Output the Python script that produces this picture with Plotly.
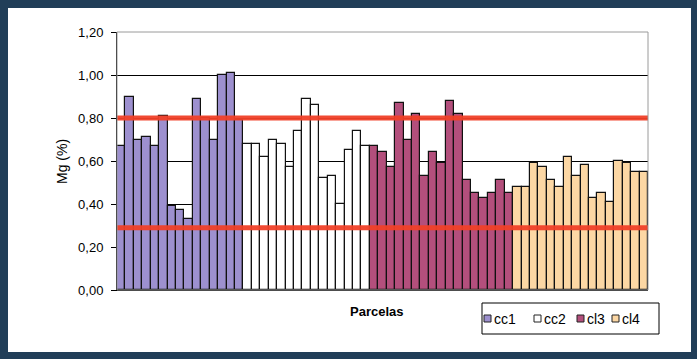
import plotly.graph_objects as go

groups = ["cc1", "cc2", "cl3", "cl4"]
cc1 = [0.67, 0.90, 0.70, 0.71, 0.67, 0.81, 0.39, 0.37, 0.33, 0.89, 0.80, 0.70, 1.00, 1.01, 0.79]
cc2 = [0.68, 0.68, 0.62, 0.70, 0.68, 0.57, 0.74, 0.89, 0.86, 0.52, 0.53, 0.40, 0.65, 0.74, 0.67]
cl3 = [0.67, 0.64, 0.57, 0.87, 0.70, 0.82, 0.53, 0.64, 0.59, 0.88, 0.82, 0.51, 0.45, 0.43, 0.45, 0.51, 0.45]
cl4 = [0.48, 0.48, 0.59, 0.57, 0.51, 0.48, 0.62, 0.53, 0.58, 0.43, 0.45, 0.41, 0.60, 0.59, 0.55, 0.55]
series = [cc1, cc2, cl3, cl4]
colors = ["#9d90cf", "#ffffff", "#b34f7c", "#fcd7a4"]
limits = [0.80, 0.29]
y_ticks = [0.0, 0.2, 0.4, 0.6, 0.8, 1.0, 1.2]

W, H = 697, 359
L, R, T, B = 117, 648, 32, 290
pw, ph = R - L, B - T
frame = "#213e58"

def px(x):
    return (x - L) / pw

def py(y):
    return (B - y) / ph

fig = go.Figure()
start = 0
for name, vals, col in zip(groups, series, colors):
    xs = list(range(start, start + len(vals)))
    start += len(vals)
    fig.add_trace(go.Bar(x=xs, y=vals, name=name, width=1.0, showlegend=False,
                         marker=dict(color=col, line=dict(color="#111111", width=1.2))))

for lv in limits:
    fig.add_shape(type="line", xref="paper", yref="y", x0=0, x1=1, y0=lv, y1=lv,
                  line=dict(color="rgba(240,64,40,0.95)", width=5), layer="above")

# white panel on dark frame
fig.add_shape(type="rect", xref="paper", yref="paper", x0=px(8), x1=px(691),
              y0=py(352), y1=py(8), fillcolor="white",
              line=dict(width=0), layer="below")
# plot border
fig.add_shape(type="rect", xref="paper", yref="paper", x0=0, x1=1, y0=0, y1=1,
              line=dict(color="#9a9a9a", width=1), layer="above")

font = "Liberation Sans, Arial"
fig.add_annotation(text="<b>Parcelas</b>", xref="paper", yref="paper", x=px(377),
                   y=py(311), showarrow=False, yanchor="middle",
                   font=dict(family=font, size=13, color="black"))
fig.add_annotation(text="Mg (%)", xref="paper", yref="paper", x=px(62),
                   y=py(162), showarrow=False, textangle=-90, xanchor="center",
                   yanchor="middle",
                   font=dict(family=font, size=14, color="black"))

# legend box (manual, compact like the original)
fig.add_shape(type="rect", xref="paper", yref="paper", x0=px(482), x1=px(659),
              y0=py(334), y1=py(303), fillcolor="white",
              line=dict(color="black", width=1), layer="above")
sq_x = [484, 534, 577, 612]
for name, col, sx in zip(groups, colors, sq_x):
    fig.add_shape(type="rect", xref="paper", yref="paper", x0=px(sx), x1=px(sx + 7),
                  y0=py(322), y1=py(315), fillcolor=col,
                  line=dict(color="#222222", width=1), layer="above")
    fig.add_annotation(text=name, xref="paper", yref="paper", x=px(sx + 8),
                       y=py(318.5), xanchor="left", yanchor="middle", showarrow=False,
                       font=dict(family=font, size=14, color="black"))

total = start
fig.update_layout(
    width=W, height=H,
    margin=dict(l=L, r=W - R, t=T, b=H - B, autoexpand=False),
    paper_bgcolor=frame, plot_bgcolor="white",
    separators=",.",
    barmode="overlay", bargap=0,
    showlegend=False,
    xaxis=dict(range=[-0.5, total - 0.5], showticklabels=False, ticks="",
               showgrid=False, zeroline=False, showline=True, linecolor="black", linewidth=1),
    yaxis=dict(range=[0, 1.2], tickvals=y_ticks, tickformat=".2f",
               ticks="outside", ticklen=5, tickcolor="black", ticklabelstandoff=5,
               showgrid=True, gridcolor="black", gridwidth=1,
               zeroline=False, showline=True, linecolor="black", linewidth=1,
               tickfont=dict(family=font, size=13, color="black")),
    font=dict(family=font, color="black"),
)

fig.write_html("out.html", config={"displayModeBar": False},
               post_script="document.body.style.margin='0';document.body.style.overflow='hidden';"
                           "document.body.style.background='" + frame + "';")
